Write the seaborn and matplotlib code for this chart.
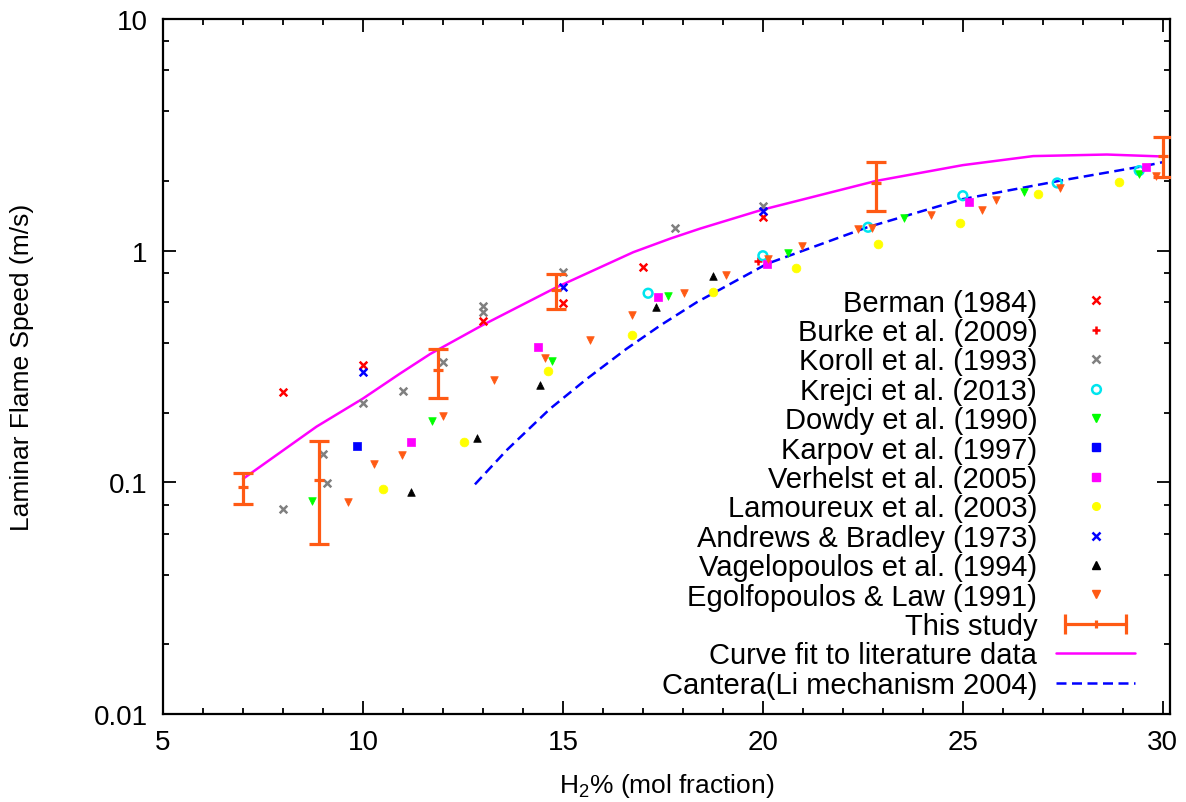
import numpy as np
import pandas as pd
import matplotlib
matplotlib.use("Agg")
import matplotlib.pyplot as plt
import seaborn as sns
from matplotlib.lines import Line2D
from matplotlib.legend_handler import HandlerLine2D
from matplotlib.ticker import LogLocator, FixedLocator, NullFormatter

# Literature data (H2 mol %, laminar flame speed m/s)
berman_x = [8.0, 10.0, 13.0, 15.0, 17.0, 20.0]
berman_y = [0.245, 0.32, 0.496, 0.595, 0.851, 1.40]

burke_x = [19.88]
burke_y = [0.906]

koroll_x = [8.0, 9.0, 9.1, 10.0, 11.0, 12.0, 13.0, 13.0, 15.0, 17.8, 20.0]
koroll_y = [0.0767, 0.132, 0.099, 0.220, 0.248, 0.332, 0.579, 0.542, 0.811, 1.249, 1.563]

krejci_x = [17.13, 20.0, 22.63, 25.0, 27.36, 29.41]
krejci_y = [0.655, 0.951, 1.262, 1.727, 1.96, 2.216]

dowdy_x = [8.73, 11.73, 14.73, 17.62, 20.62, 23.53, 26.53, 29.41]
dowdy_y = [0.083, 0.184, 0.335, 0.640, 0.977, 1.384, 1.787, 2.144]

karpov_x = [9.84]
karpov_y = [0.143]

verhelst_x = [11.2, 14.38, 17.38, 20.11, 25.16, 29.59]
verhelst_y = [0.149, 0.383, 0.629, 0.877, 1.618, 2.29]

lamoureux_x = [10.49, 12.53, 14.62, 16.72, 18.76, 20.84, 22.89, 24.93, 26.87, 28.91]
lamoureux_y = [0.0937, 0.150, 0.302, 0.434, 0.661, 0.842, 1.069, 1.318, 1.757, 1.973]

andrews_x = [10.0, 15.0, 20.0]
andrews_y = [0.299, 0.700, 1.48]

vagelo_x = [11.2, 12.84, 14.43, 17.33, 18.76]
vagelo_y = [0.0906, 0.155, 0.262, 0.570, 0.776]

egolf_x = [9.63, 10.28, 10.97, 11.99, 13.28, 14.55, 15.68, 16.72, 18.03, 19.07,
           20.13, 20.99, 22.38, 22.73, 24.2, 25.47, 25.84, 27.44, 29.83]
egolf_y = [0.082, 0.120, 0.131, 0.194, 0.277, 0.344, 0.412, 0.530, 0.657, 0.788,
           0.921, 1.05, 1.24, 1.25, 1.426, 1.50, 1.66, 1.866, 2.11]

# This study (errorbars)
study_x = [7.0, 8.9, 11.87, 14.82, 22.83, 30.0]
study_y = [0.095, 0.102, 0.306, 0.676, 1.95, 2.55]
study_lo = [0.081, 0.054, 0.231, 0.56, 1.48, 2.07]
study_hi = [0.110, 0.151, 0.376, 0.793, 2.41, 3.08]

# Curve fit to literature data
fit_x = [7.0, 8.84, 10.0, 10.93, 11.68, 12.97, 14.84, 16.76, 17.7, 18.43, 19.97, 22.83, 25.0, 26.76, 28.6, 30.0]
fit_y = [0.1035, 0.174, 0.23, 0.295, 0.358, 0.475, 0.695, 0.985, 1.13, 1.245, 1.50, 2.00, 2.34, 2.56, 2.60, 2.55]

# Cantera (Li mechanism 2004)
cantera_x = [12.8, 13.6, 14.675, 15.59, 16.59, 17.43, 18.34, 20.1, 22.6, 25.0, 27.4, 29.6, 30.0]
cantera_y = [0.098, 0.138, 0.2075, 0.279, 0.377, 0.475, 0.598, 0.877, 1.26, 1.67, 2.0, 2.33, 2.41]

sns.set_theme(style="ticks")
plt.rcParams["font.family"] = ["Liberation Sans", "DejaVu Sans"]
plt.rcParams["mathtext.fontset"] = "custom"
plt.rcParams["mathtext.rm"] = "Liberation Sans"
plt.rcParams["mathtext.it"] = "Liberation Sans:italic"
plt.rcParams["text.color"] = "black"
plt.rcParams["axes.labelcolor"] = "black"
FS_TICK = 20
FS_LEG = 21
FS_LAB = 19

fig = plt.figure(figsize=(11.86, 8.03), dpi=100)
ax = fig.add_axes([163 / 1186, 88 / 803, 1007 / 1186, 695 / 803])

ORANGE = "#ff5a14"

# Scatter series: (x, y, label, marker, color, size, filled)
series = [
    (berman_x, berman_y, "Berman (1984)", "x", "#ff0000", 30, False),
    (burke_x, burke_y, "Burke et al. (2009)", "+", "#ff0000", 34, False),
    (koroll_x, koroll_y, "Koroll et al. (1993)", "x", "#808080", 30, False),
    (krejci_x, krejci_y, "Krejci et al. (2013)", "o", "#00e5ee", 40, None),
    (dowdy_x, dowdy_y, "Dowdy et al. (1990)", "v", "#00ff00", 30, True),
    (karpov_x, karpov_y, "Karpov et al. (1997)", "s", "#0000ff", 36, True),
    (verhelst_x, verhelst_y, "Verhelst et al. (2005)", "s", "#ff00ff", 40, True),
    (lamoureux_x, lamoureux_y, "Lamoureux et al. (2003)", "o", "#ffff00", 40, True),
    (andrews_x, andrews_y, "Andrews & Bradley (1973)", "x", "#0000ff", 30, False),
    (vagelo_x, vagelo_y, "Vagelopoulos et al. (1994)", "^", "#000000", 30, True),
    (egolf_x, egolf_y, "Egolfopoulos & Law (1991)", "v", ORANGE, 30, True),
]

handles = []
labels = []
for xs, ys, lab, mk, col, s, filled in series:
    df = pd.DataFrame({"x": xs, "y": ys})
    if filled is None:
        sns.scatterplot(data=df, x="x", y="y", ax=ax, marker=mk, s=s,
                        facecolors="none", edgecolor=col, linewidth=1.8, zorder=4)
    elif filled:
        sns.scatterplot(data=df, x="x", y="y", ax=ax, marker=mk, s=s,
                        color=col, edgecolor=col, linewidth=0.5, zorder=4)
    else:
        sns.scatterplot(data=df, x="x", y="y", ax=ax, marker=mk, s=s,
                        color=col, linewidth=1.8, zorder=4)
    if filled is None:
        h = Line2D([], [], ls="none", marker=mk, markersize=6.3, mfc="none",
                   mec=col, mew=1.8)
    elif filled:
        h = Line2D([], [], ls="none", marker=mk, markersize=5.5, mfc=col, mec=col)
    else:
        h = Line2D([], [], ls="none", marker=mk, markersize=5.5, color=col, mew=1.8)
    handles.append(h)
    labels.append(lab)

# This study
yerr = [np.array(study_y) - np.array(study_lo), np.array(study_hi) - np.array(study_y)]
ax.errorbar(study_x, study_y, yerr=yerr, fmt="none", ecolor=ORANGE, elinewidth=2.3,
            capsize=7, capthick=2.3, zorder=5)
sns.scatterplot(x=study_x, y=study_y, ax=ax, marker="_", s=60, color=ORANGE,
                linewidth=2.3, zorder=5)

# Curves
sns.lineplot(x=fit_x, y=fit_y, ax=ax, color="#ff00ff", lw=1.8, sort=False,
             estimator=None, zorder=3)
sns.lineplot(x=cantera_x, y=cantera_y, ax=ax, color="#0000ff", lw=1.8, sort=False,
             estimator=None, dashes=False, zorder=3)
ax.lines[-1].set_dashes((4, 2.2))

# legend handles for lines
study_caps = Line2D([], [], color=ORANGE, lw=2.3, marker="|", markersize=14, mew=2.3)
study_mid = Line2D([], [], ls="none", color=ORANGE, marker="|", markersize=6, mew=2.3)
fit_h = Line2D([], [], color="#ff00ff", lw=1.8)
cant_h = Line2D([], [], color="#0000ff", lw=1.8, dashes=(4, 2.2))
handles += [(study_caps, study_mid), fit_h, cant_h]
labels += ["This study", "Curve fit to literature data", "Cantera(Li mechanism 2004)"]

leg = ax.legend(handles, labels, loc="upper right", bbox_to_anchor=(0.9652, 0.612),
                frameon=False, markerfirst=False, fontsize=FS_LEG, handlelength=2.7,
                handletextpad=0.65, labelspacing=0.048, borderpad=0, borderaxespad=0,
                numpoints=1, handler_map={study_caps: HandlerLine2D(numpoints=2)})

ax.set_yscale("log")
ax.set_xlim(5, 30.18)
ax.set_ylim(0.01, 10)
ax.xaxis.set_major_locator(FixedLocator([5, 10, 15, 20, 25, 30]))
ax.xaxis.set_minor_locator(FixedLocator([x for x in range(6, 31) if x % 5 != 0]))
ax.set_xticklabels(["5", "10", "15", "20", "25", "30"])
ax.yaxis.set_major_locator(FixedLocator([0.01, 0.1, 1, 10]))
ax.yaxis.set_minor_locator(LogLocator(base=10, subs=(2, 4, 6, 8)))
ax.yaxis.set_minor_formatter(NullFormatter())
ax.set_yticklabels(["0.01", "0.1", "1", "10"])

ax.tick_params(which="both", direction="in", top=True, right=True, labelsize=FS_TICK,
               width=1.3, colors="black")
ax.tick_params(which="major", length=9.5, pad=11)
ax.tick_params(which="minor", length=4.5)
for sp in ax.spines.values():
    sp.set_linewidth(1.6)
    sp.set_color("black")

ax.set_xlabel("H$_2$% (mol fraction)", fontsize=FS_LAB, labelpad=11)
ax.set_ylabel("Laminar Flame Speed (m/s)", fontsize=FS_LAB, labelpad=43)

fig.savefig("out.png", dpi=100)
